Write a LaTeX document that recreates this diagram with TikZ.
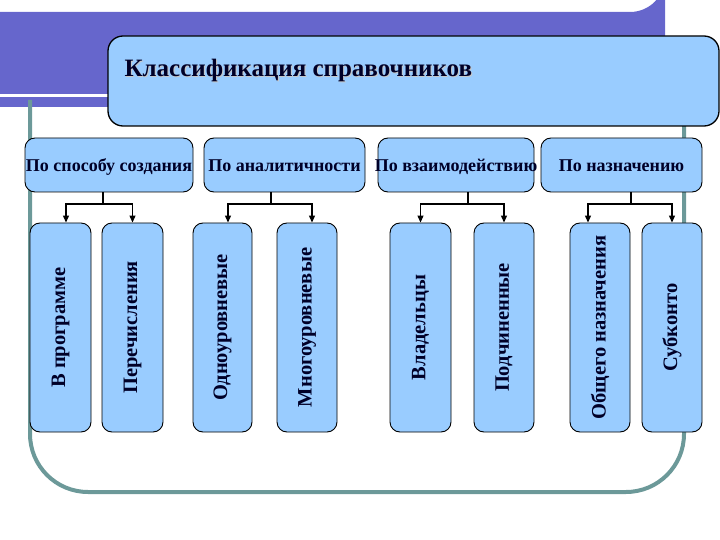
\documentclass[tikz,border=0pt]{standalone}
\usepackage{fontspec}
\setmainfont{Liberation Serif}
\usetikzlibrary{arrows.meta,calc}
\definecolor{band}{RGB}{102,102,204}
\definecolor{boxfill}{RGB}{153,204,255}
\definecolor{frame}{RGB}{108,153,153}
\definecolor{ink}{RGB}{0,0,40}
\tikzset{
  x=1pt,y=-1pt,
  titlebox/.style={draw=black,line width=1.3pt,fill=boxfill,rounded corners=15pt,minimum width=611pt,minimum height=90pt,inner sep=0pt},
  titlefont/.style={font=\fontsize{25}{28}\selectfont\bfseries},
  catbox/.style={draw=black,line width=0.9pt,fill=boxfill,rounded corners=10pt,minimum width=161pt,minimum height=54pt,inner sep=0pt},
  cattext/.style={anchor=base,font=\fontsize{18}{21}\selectfont\bfseries,text=ink,inner sep=0pt},
  leafbox/.style={draw=black,line width=0.9pt,fill=boxfill,rounded corners=10pt,minimum width=61pt,minimum height=209pt,inner sep=0pt,font=\fontsize{20.5}{24}\selectfont\bfseries,text=ink},
  conn/.style={draw=black,line width=1.2pt},
  arr/.style={conn,-{Triangle[width=6pt,length=7pt]}},
}
\begin{document}
\begin{tikzpicture}
\useasboundingbox (0,0) rectangle (720,540);
% background band
\fill[band] (0,12) -- (630,12) arc[start angle=90,end angle=0,radius=35] -- (665,94) -- (0,94) -- cycle;
\fill[band] (0,97) rectangle (300,107);
% frame
\draw[frame,line width=4pt,rounded corners=58pt] (30,100) -- (30,492) -- (684,492) -- (684,110);
% title
\node[titlebox] (title) at (413.5,81) {};
\node[anchor=base west,titlefont,text=black!22] (tshadow) at (122,78) {Классификация справочников};
\node[anchor=base west,titlefont,text=ink] (ttext) at (121,77) {Классификация справочников};
% categories
\node[catbox,minimum width=168pt] (c1) at (109,165) {};
\node[catbox] (c2) at (284.5,165) {};
\node[catbox,minimum width=156pt] (c3) at (456,165) {};
\node[catbox] (c4) at (621.5,165) {};
\node[cattext] (t1) at (109,172) {По способу создания};
\node[cattext] (t2) at (284.5,172) {По аналитичности};
\node[cattext] (t3) at (456,172) {По взаимодействию};
\node[cattext] (t4) at (621.5,172) {По назначению};
% leaves
\node[leafbox] (l1) at (60.5,327.5) {\rotatebox{90}{В программе}};
\node[leafbox] (l2) at (132.5,327.5) {\rotatebox{90}{Перечисления}};
\node[leafbox,minimum width=59pt] (l3) at (222.5,327.5) {\rotatebox{90}{Одноуровневые}};
\node[leafbox,minimum width=60pt] (l4) at (307,327.5) {\rotatebox{90}{Многоуровневые}};
\node[leafbox] (l5) at (420.5,327.5) {\rotatebox{90}{Владельцы}};
\node[leafbox,minimum width=60pt] (l6) at (504,327.5) {\rotatebox{90}{Подчиненные}};
\node[leafbox,minimum width=60pt] (l7) at (600,327.5) {\rotatebox{90}{Общего назначения}};
\node[leafbox,minimum width=60pt] (l8) at (672,327.5) {\rotatebox{90}{Субконто}};
% connectors
\coordinate (j1) at (103,204);
\coordinate (j2) at (271,204);
\coordinate (j3) at (468,204);
\coordinate (j4) at (631,204);
\draw[conn] (c1.south -| j1) -- (j1);
\draw[conn] (c2.south -| j2) -- (j2);
\draw[conn] (c3.south -| j3) -- (j3);
\draw[conn] (c4.south -| j4) -- (j4);
\draw[arr] (j1) -| ([xshift=5.5pt]l1.north);
\draw[arr] (j1) -| (l2.north);
\draw[arr] (j2) -| ([xshift=5.5pt]l3.north);
\draw[arr] (j2) -| ([xshift=5pt]l4.north);
\draw[arr] (j3) -| (l5.north);
\draw[arr] (j3) -| (l6.north);
\draw[arr] (j4) -| ([xshift=-12pt]l7.north);
\draw[arr] (j4) -| (l8.north);
\end{tikzpicture}
\end{document}
